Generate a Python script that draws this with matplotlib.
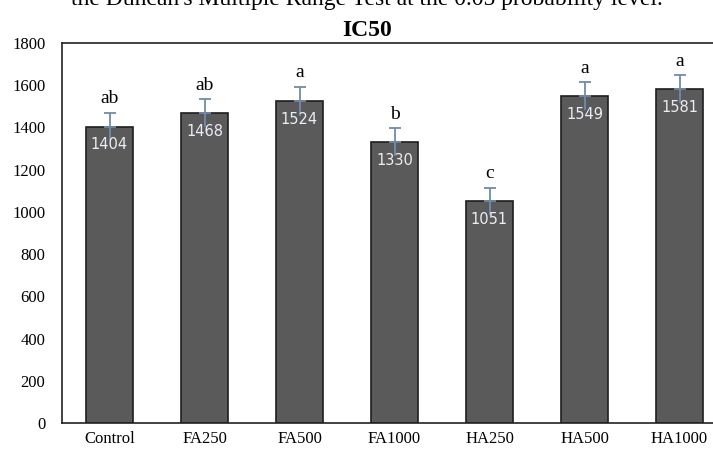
import numpy as np
import matplotlib.pyplot as plt

groups = ["Control", "FA250", "FA500", "FA1000", "HA250", "HA500", "HA1000"]
ic50 = [1404, 1468, 1524, 1330, 1051, 1549, 1581]
err = [66, 65, 68, 66, 64, 65, 66]
letters = ["ab", "ab", "a", "b", "c", "a", "a"]

serif = "Liberation Serif"

fig = plt.figure(figsize=(7.13, 4.59), dpi=100)
ax = fig.add_axes([62/713, 36/459, 665/713, 380/459])

x = np.arange(len(groups))
ax.bar(x, ic50, width=0.5, color="#5a5a5a", edgecolor="#1e1e1e", linewidth=1.2, zorder=2)
# plus-side error bar with cap, minus side drawn as plain line inside the bar
ax.errorbar(x, ic50, yerr=[np.zeros(len(err)), err], fmt="none", ecolor="#6f8bab",
            elinewidth=1.3, capsize=4, capthick=1.3, zorder=3)
ax.vlines(x, np.array(ic50) - np.array(err), ic50, color="#6f8bab", linewidth=1.3, zorder=3)

for xi, v, e, l in zip(x, ic50, err, letters):
    ax.text(xi, v - 50, str(v), ha="center", va="top", color="#ececf4",
            fontsize=10.5, family="DejaVu Sans", zorder=4)
    ax.annotate(l, xy=(xi, v + e), xytext=(0, 4), textcoords="offset points",
                ha="center", va="bottom", fontsize=14, family=serif)

ax.set_xlim(-0.5, 6.5)
ax.set_ylim(0, 1800)
ax.set_yticks(range(0, 1801, 200))
ax.set_xticks(x)
ax.set_xticklabels(groups, family=serif, fontsize=12)
for t in ax.get_yticklabels():
    t.set_family(serif)
    t.set_fontsize(12)
ax.tick_params(length=0, pad=12)
ax.tick_params(axis="x", pad=6)
for s in ax.spines.values():
    s.set_color("#222222")
    s.set_linewidth(1.2)

fig.text(367/713, 1 - 30/459, "IC50", ha="center", va="center", family=serif,
         fontsize=17, fontweight="bold")
fig.text(367/713, 1 - 5/459, "the Duncan's Multiple Range Test at the 0.05 probability level.",
         ha="center", va="baseline", family=serif, fontsize=17)

fig.savefig("out.png", dpi=100)
